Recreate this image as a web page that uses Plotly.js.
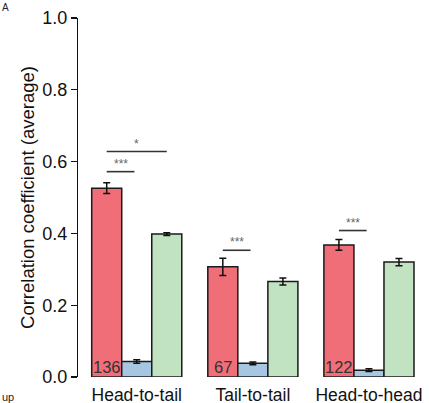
<!DOCTYPE html>
<html>
<head>
<meta charset="utf-8">
<script src="https://cdn.plot.ly/plotly-3.0.1.min.js"></script>
<style>html,body{margin:0;padding:0;background:#fff;}#chart{width:429px;height:403px;}</style>
</head>
<body>
<div id="chart"></div>
<script>
const categories = ["Head-to-tail", "Tail-to-tail", "Head-to-head"];
const redValues = [0.526, 0.307, 0.368];
const redErrors = [0.015, 0.024, 0.015];
const blueValues = [0.043, 0.038, 0.019];
const blueErrors = [0.005, 0.004, 0.004];
const greenValues = [0.398, 0.266, 0.320];
const greenErrors = [0.004, 0.010, 0.010];
const countLabels = ["136", "67", "122"];
// significance brackets
const sigCategory = [0, 0, 1, 2];
const sigToSeries = [2, 1, 1, 1];
const sigLevel = [0.628, 0.572, 0.353, 0.408];
const sigLabel = ["*", "***", "***", "***"];

const colors = ["#F06E78", "#A7C6E1", "#C2E3C2"];
const barW = 0.2586; // one bar width in category units

function barTrace(vals, errs, color) {
  return {
    type: "bar", x: categories, y: vals,
    marker: {color: color, line: {color: "#1a1a1a", width: 1.5}},
    error_y: {type: "data", array: errs, visible: true, color: "#111", thickness: 1.5, width: 3.5},
    hoverinfo: "none"
  };
}
const data = [
  barTrace(redValues, redErrors, colors[0]),
  barTrace(blueValues, blueErrors, colors[1]),
  barTrace(greenValues, greenErrors, colors[2])
];

const shapes = [];
const annotations = [];
for (let k = 0; k < sigLevel.length; k++) {
  const c = sigCategory[k];
  const x0 = c - barW;
  const x1 = c - barW + sigToSeries[k] * barW - (sigToSeries[k] === 1 ? 0.02 : 0);
  shapes.push({type: "line", xref: "x", yref: "y", x0: x0, x1: x1, y0: sigLevel[k], y1: sigLevel[k],
    line: {color: "#333", width: 1.6}});
  annotations.push({xref: "x", yref: "y", x: (x0 + x1) / 2, y: sigLevel[k], text: sigLabel[k],
    showarrow: false, yanchor: "bottom", yshift: -1, font: {family: "Liberation Sans, Arial", size: 12, color: "#666666"}});
}
for (let i = 0; i < categories.length; i++) {
  annotations.push({xref: "x", yref: "y", x: i - barW, y: 0, text: countLabels[i], showarrow: false,
    yanchor: "bottom", yshift: -1, font: {family: "Liberation Sans, Arial", size: 16.5, color: "#333"}});
}
annotations.push({xref: "paper", yref: "paper", x: 0, y: 1, xshift: -78, yshift: 18, xanchor: "left", yanchor: "top",
  text: "A", showarrow: false, font: {family: "Liberation Sans, Arial", size: 10, color: "#222"}});
annotations.push({xref: "paper", yref: "paper", x: 0, y: 0, xshift: -78, yshift: -12, xanchor: "left", yanchor: "top",
  text: "up", showarrow: false, font: {family: "Liberation Sans, Arial", size: 11, color: "#222"}});

const layout = {
  width: 429, height: 403,
  margin: {l: 78, r: 2, t: 18, b: 26, pad: 0},
  paper_bgcolor: "#fff", plot_bgcolor: "#fff",
  showlegend: false,
  barmode: "group", bargap: 0.224, bargroupgap: 0,
  font: {family: "Liberation Sans, Arial, sans-serif", color: "#111"},
  xaxis: {type: "category", range: [-0.506, 2.5], showline: false, ticks: "", showgrid: false, zeroline: false,
    tickfont: {size: 17.5, color: "#111"}, ticklabelstandoff: 5, fixedrange: true},
  yaxis: {range: [0, 1.0], tickvals: [0, 0.2, 0.4, 0.6, 0.8, 1.0], ticktext: ["0.0", "0.2", "0.4", "0.6", "0.8", "1.0"],
    showline: true, linecolor: "#111", linewidth: 1.2, ticks: "outside", ticklen: 6, tickcolor: "#111", tickwidth: 1.2,
    showgrid: false, zeroline: false, tickfont: {size: 18, color: "#111"},
    title: {text: "Correlation coefficient (average)", font: {size: 18.5, color: "#111"}, standoff: 2}},
  shapes: shapes,
  annotations: annotations
};
Plotly.newPlot("chart", data, layout, {displayModeBar: false, staticPlot: true});
</script>
</body>
</html>
